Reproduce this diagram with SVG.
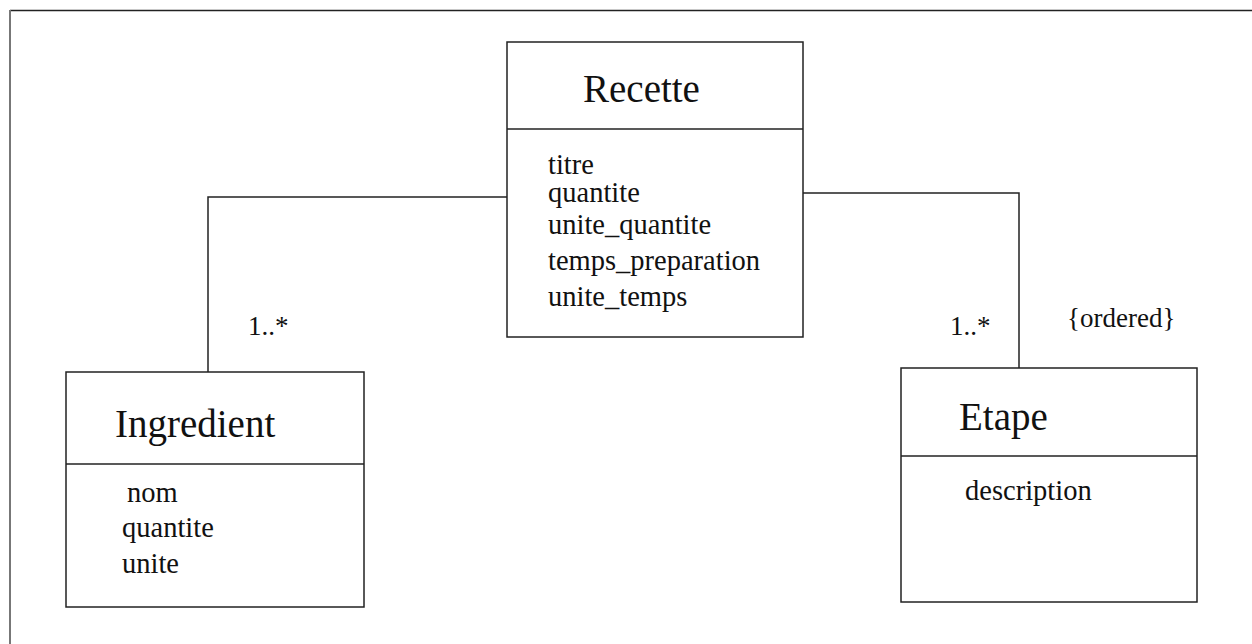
<svg xmlns="http://www.w3.org/2000/svg" width="1252" height="644" viewBox="0 0 1252 644">
<style>
.box{fill:#fff;stroke:#222;stroke-width:1.5}
.ln{fill:none;stroke:#222;stroke-width:1.5}
.t{font-family:"Liberation Serif","Times New Roman",serif;fill:#111}
.title{font-size:39px}
.attr{font-size:28.5px}
.lbl{font-size:27px}
</style>
<rect x="0" y="0" width="1252" height="644" fill="#fff"/>
<line x1="10" y1="10.5" x2="1252" y2="10.5" stroke="#222" stroke-width="1.5"/>
<line x1="10" y1="10" x2="10" y2="644" stroke="#777" stroke-width="2"/>
<g id="connectors">
<polyline class="ln" points="507,197 208,197 208,372"/>
<polyline class="ln" points="803,193 1019,193 1019,368"/>
<text class="t lbl" x="248" y="335">1..*</text>
<text class="t lbl" x="950" y="335">1..*</text>
<text class="t lbl" x="1067" y="327">{ordered}</text>
</g>
<g id="recette">
<rect class="box" x="507" y="42" width="296" height="295"/>
<line class="ln" x1="507" y1="129" x2="803" y2="129"/>
<text class="t title" x="583" y="102">Recette</text>
<text class="t attr" x="548" y="174">titre</text>
<text class="t attr" x="548" y="202">quantite</text>
<text class="t attr" x="548" y="234">unite_quantite</text>
<text class="t attr" x="548" y="270">temps_preparation</text>
<text class="t attr" x="548" y="306">unite_temps</text>
</g>
<g id="ingredient">
<rect class="box" x="66" y="372" width="298" height="235"/>
<line class="ln" x1="66" y1="464" x2="364" y2="464"/>
<text class="t title" x="115" y="437">Ingredient</text>
<text class="t attr" x="127" y="502">nom</text>
<text class="t attr" x="122" y="537">quantite</text>
<text class="t attr" x="122" y="573">unite</text>
</g>
<g id="etape">
<rect class="box" x="901" y="368" width="296" height="234"/>
<line class="ln" x1="901" y1="456" x2="1197" y2="456"/>
<text class="t title" x="959" y="430">Etape</text>
<text class="t attr" x="965" y="500">description</text>
</g>
</svg>
